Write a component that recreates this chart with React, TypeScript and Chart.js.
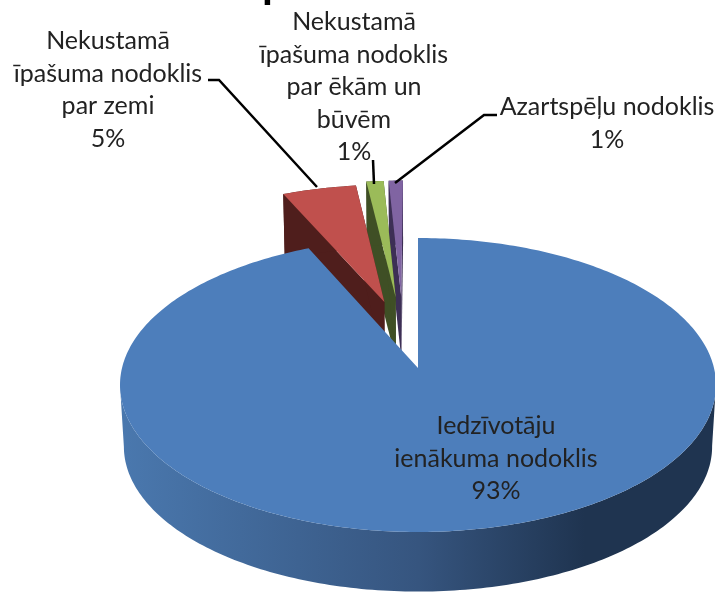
import React, { useEffect, useRef } from "react";
import { Chart, registerables } from "chart.js";

Chart.register(...registerables);

const categories = [
  "Iedzīvotāju ienākuma nodoklis",
  "Nekustamā īpašuma nodoklis par zemi",
  "Nekustamā īpašuma nodoklis par ēkām un būvēm",
  "Azartspēļu nodoklis",
];
const values = [93.3, 4.7, 1.1, 0.9];
const titleText = "pamatbudžets";
const labelLines = [
  ["Iedzīvotāju", "ienākuma nodoklis"],
  ["Nekustamā", "īpašuma nodoklis", "par zemi"],
  ["Nekustamā", "īpašuma nodoklis", "par ēkām un", "būvēm"],
  ["Azartspēļu nodoklis"],
];
const topColors = ["#4d7ebb", "#c0504d", "#9bbb59", "#8064a2"];
const wallColors = ["#1f3450", "#4f1e1c", "#3f4f25", "#3d2f55"];

// view of the tilted pie
const CX = 418, CY = 368, RX = 296, RY = 145, PERSP = 0.1157, DEPTH = 62, TAPER = 0.013;
const explodeU = [0, -0.12, -0.08, -0.06];
const explodeV = [0, -0.48, -0.518, -0.52];
const labelAnchor = [
  { x: 496, y: 426 },
  { x: 108, y: 41 },
  { x: 354, y: 22 },
  { x: 607, y: 107 },
];
const LINE_H = 32.5;
const leaders = [
  [[208, 80], [219, 80], [317, 187]],
  [[373, 160], [374, 184]],
  [[497, 115], [484, 115], [395, 183]],
];

function project(u: number, v: number, z: number) {
  const w = 1 - PERSP * v + TAPER * z;
  return { x: CX + (RX * u) / w, y: CY + (RY * v) / w + DEPTH * z };
}

function rim(a0: number, a1: number, i: number, z: number) {
  const n = Math.max(4, Math.ceil(Math.abs(a1 - a0) * 60));
  const pts = [];
  for (let k = 0; k <= n; k++) {
    const a = a0 + ((a1 - a0) * k) / n;
    pts.push(project(Math.cos(a) + explodeU[i], Math.sin(a) + explodeV[i], z));
  }
  return pts;
}

type P = { x: number; y: number };

function fillPoly(ctx: CanvasRenderingContext2D, pts: P[], fill: any) {
  ctx.beginPath();
  pts.forEach((p, k) => (k ? ctx.lineTo(p.x, p.y) : ctx.moveTo(p.x, p.y)));
  ctx.closePath();
  ctx.fillStyle = fill;
  ctx.fill();
}

function extremeIndex(pts: P[], sign: number) {
  let best = 0;
  pts.forEach((p, k) => {
    if (sign * p.x > sign * pts[best].x) best = k;
  });
  return best;
}

function frontBand(top: P[], bot: P[]) {
  const tR = extremeIndex(top, 1), tL = extremeIndex(top, -1);
  const bR = extremeIndex(bot, 1), bL = extremeIndex(bot, -1);
  return [...top.slice(tR, tL + 1), ...bot.slice(bR, bL + 1).reverse()];
}

const pie3d = {
  id: "pie3d",
  beforeDatasetDraw(chart: any) {
    const ctx: CanvasRenderingContext2D = chart.ctx;
    const arcs = chart.getDatasetMeta(0).data;
    const grad = ctx.createLinearGradient(121, 0, 715, 0);
    grad.addColorStop(0, "#4a78ae");
    grad.addColorStop(0.5, "#36557f");
    grad.addColorStop(0.78, "#1f3450");
    grad.addColorStop(1, "#1f3450");
    [3, 2, 1, 0].forEach((i) => {
      const { startAngle, endAngle } = arcs[i];
      const topRim = rim(startAngle, endAngle, i, 0);
      const botRim = rim(startAngle, endAngle, i, 1);
      const apexTop = project(explodeU[i], explodeV[i], 0);
      const apexBot = project(explodeU[i], explodeV[i], 1);
      if (i !== 0) {
        fillPoly(ctx, [topRim[0], apexTop, apexBot, botRim[0]], wallColors[i]);
        fillPoly(ctx, [topRim[topRim.length - 1], apexTop, apexBot, botRim[botRim.length - 1]], wallColors[i]);
        fillPoly(ctx, [...topRim, ...botRim.slice().reverse()], wallColors[i]);
      } else {
        fillPoly(ctx, frontBand(topRim, botRim), grad);
      }
      fillPoly(ctx, [apexTop, ...topRim], topColors[i]);
    });
    return false;
  },
  afterDraw(chart: any) {
    const ctx: CanvasRenderingContext2D = chart.ctx;
    ctx.save();
    ctx.strokeStyle = "#000";
    ctx.lineWidth = 2.5;
    leaders.forEach((pts) => {
      ctx.beginPath();
      pts.forEach(([x, y], k) => (k ? ctx.lineTo(x, y) : ctx.moveTo(x, y)));
      ctx.stroke();
    });
    ctx.textAlign = "left";
    ctx.textBaseline = "alphabetic";
    ctx.fillStyle = "#000";
    ctx.font = "bold 44px Lato";
    ctx.fillText(titleText, 262, -2);
    ctx.textAlign = "center";
    ctx.textBaseline = "middle";
    ctx.fillStyle = "#222";
    ctx.font = "25px Lato";
    const total = values.reduce((a, b) => a + b, 0);
    labelLines.forEach((lines, i) => {
      const all = [...lines, Math.round((values[i] / total) * 100) + "%"];
      all.forEach((t, k) => ctx.fillText(t, labelAnchor[i].x, labelAnchor[i].y + k * LINE_H));
    });
    ctx.restore();
  },
};

export default function App() {
  const ref = useRef<HTMLCanvasElement>(null);
  useEffect(() => {
    const chart = new Chart(ref.current!, {
      type: "pie",
      data: {
        labels: categories,
        datasets: [{ data: values, backgroundColor: topColors, borderWidth: 0 }],
      },
      options: {
        animation: false,
        responsive: false,
        plugins: { legend: { display: false }, tooltip: { enabled: false } },
      },
      plugins: [pie3d],
    } as any);
    return () => chart.destroy();
  }, []);
  return (
    <canvas
      ref={ref}
      width={715}
      height={594}
      style={{ position: "absolute", left: 0, top: 0, width: 715, height: 594, filter: "blur(0.5px)" }}
    />
  );
}
